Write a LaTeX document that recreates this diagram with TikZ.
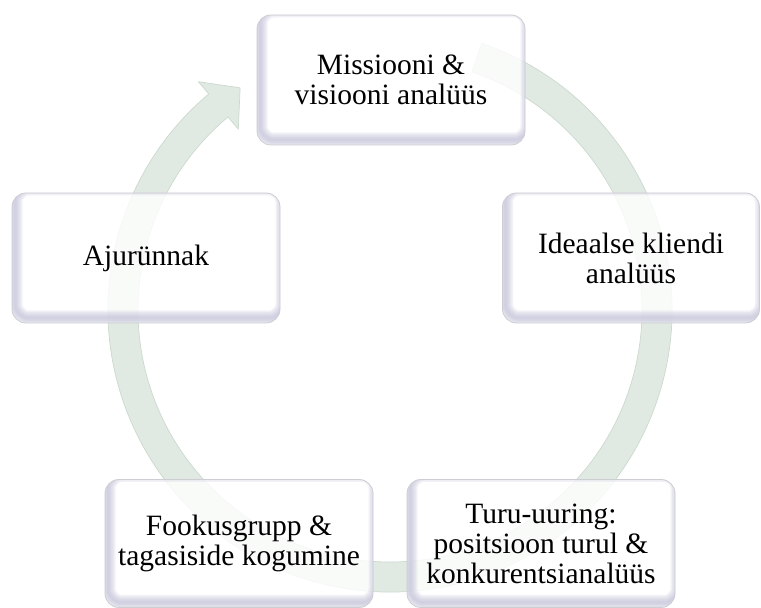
\documentclass[tikz,border=0pt]{standalone}
\usepackage{fontspec}
\setmainfont{Liberation Serif}
\definecolor{bandfill}{RGB}{224,234,226}
\definecolor{bandline}{RGB}{204,217,206}
\definecolor{boxline}{RGB}{205,205,212}
\definecolor{boxshade}{RGB}{186,186,212}
\tikzset{
  stage/.style={rounded corners=14pt, minimum width=268pt, minimum height=130pt, inner sep=0pt, align=center,
    draw=boxline, line width=0.8pt, fill=white, fill opacity=0.82, text opacity=1, font=\fontsize{29.5}{30}\selectfont,
    path picture={\foreach \w in {3pt,6pt,9pt,12pt,15pt}{\draw[boxshade, draw opacity=0.18, line width=\w, rounded corners=14pt]
      ([shift={(3pt,5pt)}]path picture bounding box.south west) rectangle ([shift={(3pt,5pt)}]path picture bounding box.north east);}}}
}
\begin{document}
\begin{tikzpicture}[x=1pt, y=1pt, line join=round]
	\useasboundingbox (0,0) rectangle (761,608);
	\coordinate (C) at (390,298);
	% ring arrow behind the stages
	\begin{scope}[shift={(C)}]
		\path[fill=bandfill, draw=bandline, line width=0.7pt] (71:282) arc[start angle=71, end angle=-230, radius=282pt]
			-- (-230:298) -- (-236:268) -- (-230:236) -- (-230:252) arc[start angle=-230, end angle=71, radius=252pt] -- cycle;
	\end{scope}
	\node[stage] (mission) at (391,528) {Missiooni \&\\visiooni analüüs};
	\node[stage, minimum width=257pt] (client) at (631,350) {Ideaalse kliendi\\analüüs};
	\node[stage, minimum height=128pt] (market) at (541,64.5) {Turu-uuring:\\positsioon turul \&\\konkurentsianalüüs};
	\node[stage, minimum height=128pt] (focus) at (239,64.5) {Fookusgrupp \&\\tagasiside kogumine};
	\node[stage] (brain) at (146,350) {Ajurünnak};
\end{tikzpicture}
\end{document}
